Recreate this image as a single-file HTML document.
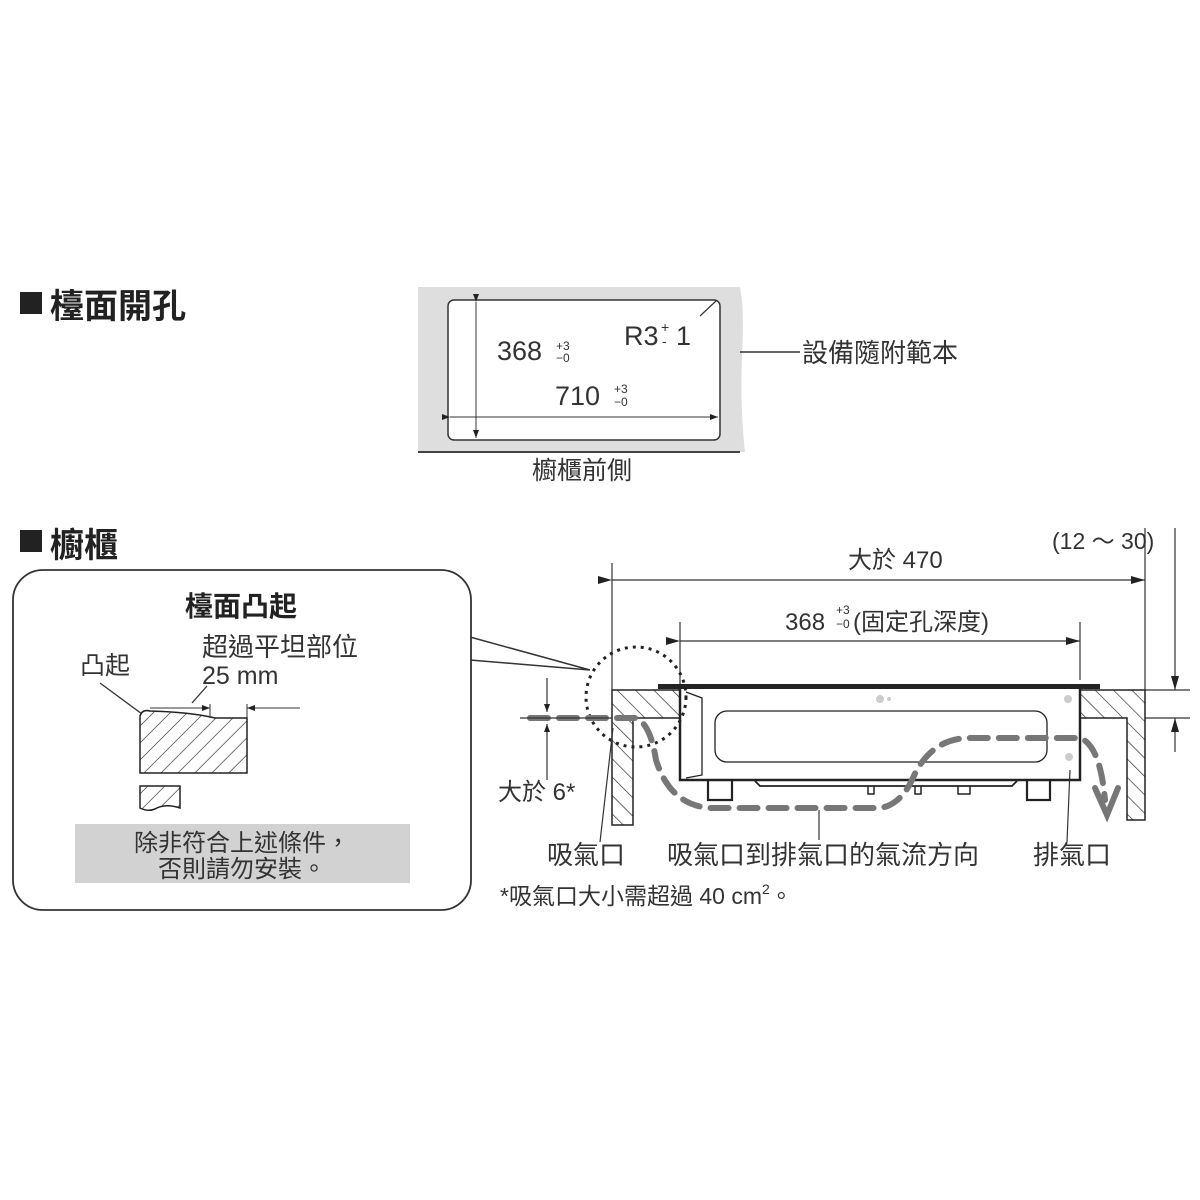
<!DOCTYPE html>
<html><head><meta charset="utf-8"><style>
body{margin:0;background:#fff}
svg{display:block}
text{font-family:"Liberation Sans","Noto Sans CJK TC",sans-serif;fill:#333}
</style></head><body>
<svg width="1200" height="1200" viewBox="0 0 1200 1200" xmlns="http://www.w3.org/2000/svg">
<defs>
<pattern id="h" patternUnits="userSpaceOnUse" width="12" height="12" patternTransform="rotate(45)"><rect width="12" height="12" fill="#fff"/><line x1="0" y1="0" x2="0" y2="12" stroke="#222" stroke-width="1.3"/></pattern>
<pattern id="h2" patternUnits="userSpaceOnUse" width="13" height="13" patternTransform="rotate(-45)"><rect width="13" height="13" fill="#fff"/><line x1="0" y1="0" x2="0" y2="13" stroke="#222" stroke-width="1.3"/></pattern>
<marker id="a" markerWidth="14" markerHeight="8" refX="14" refY="4" orient="auto" markerUnits="userSpaceOnUse"><path d="M0,0 L14,4 L0,8z" fill="#222"/></marker>
<marker id="as" markerWidth="8" markerHeight="6" refX="8" refY="3" orient="auto" markerUnits="userSpaceOnUse"><path d="M0,0 L8,3 L0,6z" fill="#222"/></marker>
</defs>

<rect x="20" y="292" width="22" height="22" fill="#222"/>
<text x="50" y="318" font-size="34" font-weight="bold" style="fill:#222">檯面開孔</text>
<rect x="20" y="530" width="22" height="22" fill="#222"/>
<text x="50" y="557" font-size="34" font-weight="bold" style="fill:#222">櫥櫃</text>

<path d="M418,287 L740,287 C748,330 736,370 745,452 L418,452 Z" fill="#dedede"/>
<line x1="418" y1="452" x2="740" y2="452" stroke="#444" stroke-width="2"/>
<rect x="448" y="300" width="272" height="140" rx="6" fill="#fff" stroke="#333" stroke-width="1.5"/>
<line x1="476" y1="302" x2="476" y2="438" stroke="#333" stroke-width="1" marker-start="url(#as)" marker-end="url(#as)"/>
<line x1="450" y1="417" x2="718" y2="417" stroke="#333" stroke-width="1" marker-start="url(#as)" marker-end="url(#as)"/>
<line x1="700" y1="316" x2="716" y2="301" stroke="#333" stroke-width="1.2"/>
<text x="497" y="360" font-size="27">368</text>
<text x="556" y="350" font-size="12">+3</text><text x="556" y="362" font-size="12">−0</text>
<text x="624" y="345" font-size="27">R3</text>
<text x="661" y="332" font-size="14">+</text><text x="662" y="346" font-size="14">-</text>
<text x="676" y="345" font-size="27">1</text>
<text x="555" y="405" font-size="27">710</text>
<text x="614" y="393" font-size="12">+3</text><text x="614" y="406" font-size="12">−0</text>
<line x1="740" y1="352" x2="800" y2="352" stroke="#333" stroke-width="1.5"/>
<text x="802" y="362" font-size="26">設備隨附範本</text>
<text x="532" y="479" font-size="25">櫥櫃前側</text>

<path d="M470,637 L590,670 L470,660" fill="#fff" stroke="#333" stroke-width="1.5"/>
<rect x="13" y="570" width="458" height="340" rx="30" fill="#fff" stroke="#333" stroke-width="1.8"/>
<text x="185" y="616" font-size="28" font-weight="bold" style="fill:#222">檯面凸起</text>
<text x="80" y="674" font-size="25">凸起</text>
<text x="202" y="656" font-size="26">超過平坦部位</text>
<text x="202" y="684" font-size="25">25 mm</text>
<line x1="100" y1="683" x2="142" y2="714" stroke="#333" stroke-width="1.3"/>
<line x1="192" y1="703" x2="207" y2="686" stroke="#333" stroke-width="1.3"/>
<path d="M140,773 L140,716 Q142,709 150,711 Q190,712 215,718 L247,718 L247,773 Z" fill="url(#h)" stroke="#222" stroke-width="1.5"/>
<line x1="210" y1="704" x2="210" y2="718" stroke="#333" stroke-width="1"/>
<line x1="247" y1="704" x2="247" y2="718" stroke="#333" stroke-width="1"/>
<line x1="150" y1="708" x2="210" y2="708" stroke="#333" stroke-width="1" marker-end="url(#as)"/>
<line x1="300" y1="708" x2="247" y2="708" stroke="#333" stroke-width="1" marker-end="url(#as)"/>
<path d="M140,786 L180,786 L180,808 Q165,803 155,809 Q148,812 140,808 Z" fill="url(#h)" stroke="#222" stroke-width="1.5"/>
<rect x="75" y="824" width="335" height="59" fill="#d2d2d2"/>
<text x="242" y="851" font-size="24" text-anchor="middle">除非符合上述條件，</text>
<text x="242" y="877" font-size="24" text-anchor="middle">否則請勿安裝。</text>

<text x="1052" y="549" font-size="23">(12 ～ 30)</text>
<text x="848" y="568" font-size="24">大於 470</text>
<line x1="612" y1="563" x2="612" y2="690" stroke="#333" stroke-width="1.2"/>
<line x1="1145" y1="528" x2="1145" y2="690" stroke="#333" stroke-width="1.2"/>
<line x1="612" y1="580" x2="1145" y2="580" stroke="#333" stroke-width="1.2" marker-start="url(#a)" marker-end="url(#a)"/>
<text x="785" y="630" font-size="24">368</text>
<text x="836" y="614" font-size="12">+3</text><text x="836" y="628" font-size="12">−0</text>
<text x="853" y="630" font-size="24">(固定孔深度)</text>
<line x1="680" y1="622" x2="680" y2="720" stroke="#333" stroke-width="1.2"/>
<line x1="1080" y1="622" x2="1080" y2="680" stroke="#333" stroke-width="1.2"/>
<line x1="680" y1="641" x2="1080" y2="641" stroke="#333" stroke-width="1.2" marker-start="url(#a)" marker-end="url(#a)"/>
<line x1="1175" y1="528" x2="1175" y2="690" stroke="#333" stroke-width="1.2" marker-end="url(#a)"/>
<line x1="1175" y1="752" x2="1175" y2="718" stroke="#333" stroke-width="1.2" marker-end="url(#a)"/>
<line x1="1145" y1="690" x2="1190" y2="690" stroke="#333" stroke-width="1.2"/>
<line x1="1145" y1="718" x2="1190" y2="718" stroke="#333" stroke-width="1.2"/>

<path d="M612,690 L680,690 L680,718 L633,718 L633,825 L612,825 Z" fill="url(#h2)" stroke="#222" stroke-width="1.5"/>
<path d="M1080,690 L1145,690 L1145,820 L1127,820 L1127,718 L1080,718 Z" fill="url(#h2)" stroke="#222" stroke-width="1.5"/>

<rect x="658" y="684" width="442" height="5" fill="#222"/>
<path d="M680,689 L680,780 L1080,780 L1080,689" fill="#fff" stroke="#222" stroke-width="2.5"/>
<path d="M686,692 L702,698 L702,775 L686,778" fill="none" stroke="#222" stroke-width="1.3"/>
<rect x="715" y="711" width="332" height="51" rx="12" fill="none" stroke="#222" stroke-width="1.3"/>
<path d="M708,780 L708,800 L732,800 L732,780 M1027,780 L1027,800 L1050,800 L1050,780" fill="none" stroke="#222" stroke-width="2.2"/>
<path d="M755,781 L760,786 L1012,786 L1017,781" fill="none" stroke="#222" stroke-width="1.8"/>
<path d="M868,786 v8 h6 v-8 M915,786 v8 h6 v-8 M958,786 v8 h12 v-8" fill="none" stroke="#222" stroke-width="1.5"/>
<circle cx="880" cy="699" r="4" fill="#ccc"/><circle cx="889" cy="699" r="2" fill="#ccc"/>
<circle cx="1068" cy="699" r="4" fill="#ccc"/><circle cx="1069" cy="757" r="4" fill="#ccc"/>

<circle cx="636" cy="697" r="50" fill="none" stroke="#222" stroke-width="3" stroke-dasharray="3,5"/>

<path d="M530,718 L635,718 Q650,722 656,760 Q670,805 710,808 L880,808 Q900,805 912,780 Q930,738 970,738 L1080,738 Q1100,745 1105,800" fill="none" stroke="#777" stroke-width="6" stroke-dasharray="18,11" stroke-linecap="round"/>
<path d="M1095,788 L1107,815 L1118,788" fill="none" stroke="#777" stroke-width="6" stroke-linecap="round"/>

<line x1="520" y1="718" x2="612" y2="718" stroke="#333" stroke-width="1.2"/>
<line x1="547" y1="678" x2="547" y2="712" stroke="#333" stroke-width="1.2" marker-end="url(#as)"/>
<line x1="547" y1="780" x2="547" y2="724" stroke="#333" stroke-width="1.2" marker-end="url(#as)"/>
<text x="498" y="800" font-size="24">大於 6*</text>

<line x1="613" y1="728" x2="600" y2="842" stroke="#333" stroke-width="1.2"/>
<line x1="819" y1="810" x2="819" y2="840" stroke="#333" stroke-width="1.2"/>
<line x1="1070" y1="770" x2="1067" y2="842" stroke="#333" stroke-width="1.2"/>
<text x="547" y="864" font-size="26">吸氣口</text>
<text x="667" y="864" font-size="26">吸氣口到排氣口的氣流方向</text>
<text x="1033" y="864" font-size="26">排氣口</text>
<text x="500" y="904" font-size="23">*吸氣口大小需超過 40 cm<tspan font-size="14" dy="-10">2</tspan><tspan dy="10">。</tspan></text>
</svg>
</body></html>
